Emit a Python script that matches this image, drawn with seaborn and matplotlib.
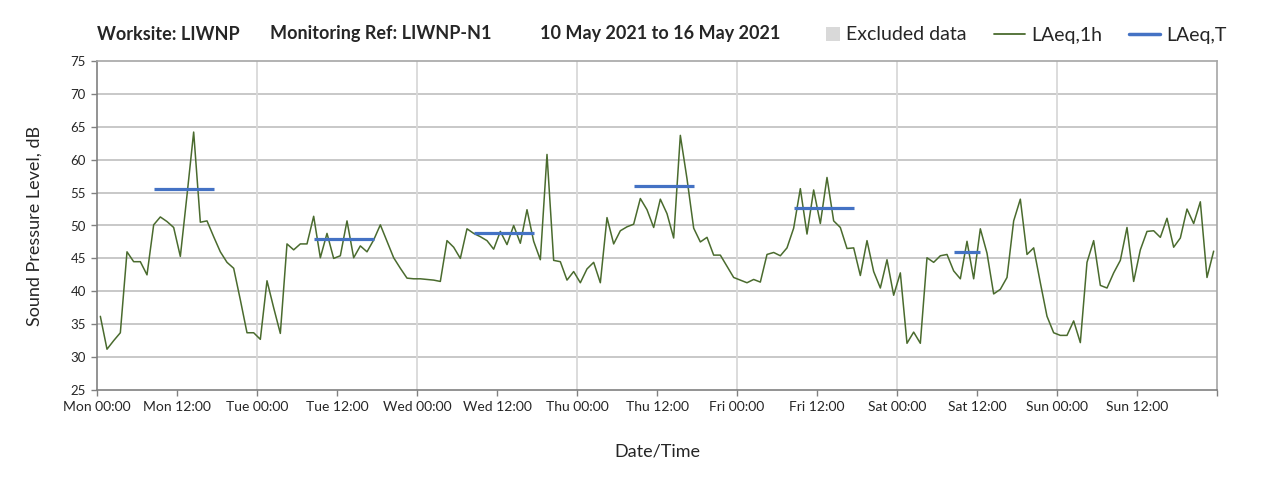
import numpy as np
import pandas as pd
import seaborn as sns
import matplotlib.pyplot as plt
from matplotlib.lines import Line2D
from matplotlib.patches import Patch, Rectangle
from matplotlib.legend_handler import HandlerPatch

# hourly LAeq,1h values, Mon 10 May 00:00 to Sun 16 May 23:00
laeq_1h = [
    36.2, 31.2, 32.5, 33.7, 46.0, 44.5, 44.5, 42.5, 50.1, 51.3, 50.6, 49.7,
    45.3, 54.6, 64.2, 50.5, 50.7, 48.3, 46.0, 44.4, 43.5, 38.7, 33.7, 33.7,
    32.7, 41.6, 37.5, 33.6, 47.2, 46.3, 47.2, 47.2, 51.4, 45.1, 48.8, 45.0,
    45.4, 50.7, 45.1, 46.9, 46.0, 47.8, 50.1, 47.6, 45.1, 43.5, 42.0, 41.9,
    41.9, 41.8, 41.7, 41.5, 47.7, 46.7, 45.0, 49.5, 48.8, 48.3, 47.7, 46.4,
    49.1, 47.1, 50.0, 47.3, 52.4, 47.6, 44.8, 60.8, 44.7, 44.5, 41.7, 43.0,
    41.3, 43.4, 44.4, 41.3, 51.2, 47.2, 49.2, 49.8, 50.2, 54.1, 52.4, 49.7,
    54.0, 51.8, 48.1, 63.7, 57.1, 49.6, 47.5, 48.2, 45.5, 45.5, 43.8, 42.1,
    41.7, 41.3, 41.8, 41.4, 45.6, 45.9, 45.4, 46.6, 49.6, 55.6, 48.7, 55.4,
    50.3, 57.3, 50.7, 49.7, 46.5, 46.6, 42.4, 47.7, 43.0, 40.5, 44.8, 39.4,
    42.8, 32.1, 33.8, 32.1, 45.1, 44.4, 45.4, 45.6, 43.1, 41.9, 47.6, 41.9,
    49.5, 45.8, 39.6, 40.3, 42.1, 50.7, 54.0, 45.6, 46.6, 41.3, 36.2, 33.7,
    33.3, 33.3, 35.5, 32.2, 44.4, 47.7, 40.9, 40.5, 42.8, 44.7, 49.7, 41.5,
    46.3, 49.1, 49.2, 48.2, 51.1, 46.7, 48.1, 52.5, 50.3, 53.6, 42.1, 46.1,
]

# LAeq,T per day (Mon..Sat), first hour and number of hours of each period
laeq_t = [55.6, 47.9, 48.8, 56.0, 52.6, 46.0]
period_start = [8, 8, 8, 8, 8, 8]
period_hours = [10, 10, 10, 10, 10, 5]

days = ["Mon", "Tue", "Wed", "Thu", "Fri", "Sat", "Sun"]
tick_labels = [f"{d} {h}" for d in days for h in ("00:00", "12:00")] + [""]

title_parts = ["Worksite: LIWNP", "Monitoring Ref: LIWNP-N1",
               "10 May 2021 to 16 May 2021"]
title_x = [97, 270, 540]

green = "#4a6b2e"
blue = "#4472c4"


def square_patch(legend, orig_handle, xdescent, ydescent, width, height,
                 fontsize):
    # small square sitting right next to the label, like the original
    s = height * 1.05
    return Rectangle((-xdescent + width - s, -ydescent + (height - s) / 2),
                     s, s)


sns.set_style("white")
plt.rcParams["font.family"] = ["Lato", "DejaVu Sans"]

fig = plt.figure(figsize=(12.82, 4.86), dpi=100)
ax = fig.add_axes([97 / 1282, 1 - 390 / 486, 1120 / 1282, 329 / 486])

hours = np.arange(len(laeq_1h)) + 0.5
df = pd.DataFrame({"hour": hours, "level": laeq_1h})
sns.lineplot(data=df, x="hour", y="level", color=green, lw=1.1, ax=ax)

for day, (val, start, n) in enumerate(zip(laeq_t, period_start, period_hours)):
    x = day * 24 + start + np.arange(n) + 0.5
    sns.lineplot(x=x, y=[val] * n, color=blue, lw=2.3, ax=ax,
                 solid_capstyle="butt")

ax.set_xlim(0, 168)
ax.set_ylim(25, 75)
ax.set_xticks(np.arange(0, 169, 12))
ax.set_xticklabels(tick_labels, fontsize=10)
ax.set_yticks(np.arange(25, 76, 5))
ax.tick_params(axis="y", labelsize=9.5)
ax.tick_params(axis="both", direction="out", length=4, width=1,
               color="#808080", bottom=True, left=True, pad=4)

for y in range(30, 75, 5):
    ax.axhline(y, color="#c4c4c4", lw=1.3, zorder=0)
for d in range(1, 7):
    ax.axvline(d * 24, color="#d9d9d9", lw=1.3, zorder=0)

for side in ["left", "bottom"]:
    ax.spines[side].set_color("#808080")
    ax.spines[side].set_linewidth(1.2)
for side in ["top", "right"]:
    ax.spines[side].set_color("#a6a6a6")
    ax.spines[side].set_linewidth(1.2)

ax.set_xlabel("Date/Time", fontsize=13, labelpad=22)
ax.set_ylabel("Sound Pressure Level, dB", fontsize=13, labelpad=20)

for txt, px in zip(title_parts, title_x):
    fig.text(px / 1282, 1 - 34 / 486, txt, fontsize=13, fontweight="bold",
             va="center", ha="left")

handles = [
    Patch(facecolor="#d9d9d9", edgecolor="none"),
    Line2D([0], [0], color=green, lw=1.3),
    Line2D([0], [0], color=blue, lw=2.5),
]
fig.legend(handles, ["Excluded data", "LAeq,1h", "LAeq,T"], ncol=3,
           loc="center right", bbox_to_anchor=(1244 / 1282, 1 - 35 / 486),
           frameon=False, fontsize=14, handlelength=1.6, columnspacing=1.4,
           handletextpad=0.3,
           handler_map={Patch: HandlerPatch(patch_func=square_patch)})

fig.savefig("out.png", dpi=100)
